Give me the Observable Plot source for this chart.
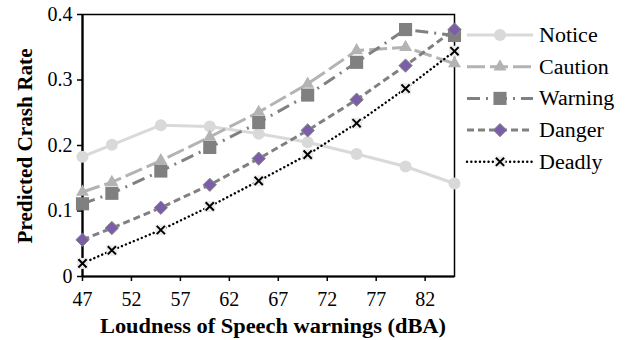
<!DOCTYPE html>
<html>
<head>
<meta charset="utf-8">
<script src="https://cdn.jsdelivr.net/npm/d3@7"></script>
<script src="https://cdn.jsdelivr.net/npm/@observablehq/plot@0.6"></script>
<style>
  html, body { margin: 0; padding: 0; background: #fff; }
  #chart { width: 628px; height: 340px; }
  #chart svg, #chart svg text { font-family: "Liberation Serif", "Times New Roman", serif !important; }
</style>
</head>
<body>
<div id="chart"></div>
<script>
// ---- data ----
const loudness = [47, 50, 55, 60, 65, 70, 75, 80, 85];
const notice  = [0.183, 0.201, 0.231, 0.229, 0.218, 0.205, 0.187, 0.168, 0.142];
const caution = [0.129, 0.144, 0.177, 0.213, 0.251, 0.294, 0.345, 0.350, 0.325];
const warning = [0.111, 0.127, 0.161, 0.197, 0.235, 0.277, 0.327, 0.377, 0.368];
const danger  = [0.056, 0.074, 0.105, 0.140, 0.180, 0.223, 0.270, 0.322, 0.377];
const deadly  = [0.020, 0.040, 0.071, 0.107, 0.146, 0.186, 0.234, 0.287, 0.344];
const seriesNames = ["Notice", "Caution", "Warning", "Danger", "Deadly"];
const xTicks = [47, 52, 57, 62, 67, 72, 77, 82];
const yTicks = [0, 0.1, 0.2, 0.3, 0.4];
const xTitle = "Loudness of Speech warnings (dBA)";
const yTitle = "Predicted Crash Rate";

const values = [notice, caution, warning, danger, deadly];
const rows = [];
seriesNames.forEach((s, i) => loudness.forEach((x, j) => rows.push({series: s, x, y: values[i][j]})));

// ---- styles ----
const styles = {
  Notice:  {stroke: "#d9d9d9", width: 3, dash: null, symbol: "circle", r: 6, fill: "#d9d9d9", mstroke: "none"},
  Caution: {stroke: "#b3b3b3", width: 3, dash: "18,5", symbol: "triangle", r: 4.8, fill: "#b3b3b3", mstroke: "none"},
  Warning: {stroke: "#808080", width: 3, dash: "13,6,2,6", symbol: "square", r: 7.4, fill: "#808080", mstroke: "none"},
  Danger:  {stroke: "#808080", width: 3, dash: "7,4", symbol: "diamond2", r: 6, fill: "#7b5ea7", mstroke: "#8a8a8a"},
  Deadly:  {stroke: "#000000", width: 2.4, dash: "0.1,4.2", symbol: "times", r: 3.8, fill: "none", mstroke: "#000"}
};

const marks = [];
for (const s of seriesNames) {
  const st = styles[s];
  const d = rows.filter(r => r.series === s);
  marks.push(Plot.line(d, {x: "x", y: "y", stroke: st.stroke, strokeWidth: st.width,
    strokeDasharray: st.dash, strokeLinecap: s === "Deadly" ? "round" : "butt"}));
  if (s === "Deadly") {
    marks.push(Plot.dot(d, {x: "x", y: "y", symbol: "square", r: 6.2, fill: "#ececec", stroke: "none"}));
    marks.push(Plot.dot(d, {x: "x", y: "y", symbol: "times", r: st.r, stroke: "#000", strokeWidth: 2}));
  } else {
    marks.push(Plot.dot(d, {x: "x", y: "y", symbol: st.symbol, r: st.r, fill: st.fill,
      stroke: st.mstroke, strokeWidth: 1}));
  }
}

const chart = Plot.plot({
  width: 628,
  height: 340,
  marginLeft: 82,
  marginRight: 174,
  marginTop: 14,
  marginBottom: 64,
  style: {fontFamily: "Liberation Serif", fontSize: "20px", color: "#000", background: "#fff", overflow: "visible"},
  x: {domain: [47, 85]},
  y: {domain: [0, 0.4]},
  marks: [
    Plot.axisX({ticks: xTicks, tickSize: 5, tickPadding: 10, label: null, tickFormat: d => String(d), strokeWidth: 1.5}),
    Plot.axisY({ticks: yTicks, tickSize: 5, tickPadding: 5, label: null, tickFormat: d => d === 0 ? "0" : d3.format(".1f")(d), strokeWidth: 1.5}),
    Plot.frame({stroke: "#000", strokeWidth: 1.5}),
    Plot.ruleY([0], {stroke: "#000", strokeWidth: 2.2}),
    Plot.ruleX([47], {stroke: "#000", strokeWidth: 2.2}),
    ...marks
  ]
});

document.getElementById("chart").appendChild(chart);

// stretch text horizontally like the reference's wider typeface
function stretch(sel, k) {
  const node = sel.node();
  const len = node.getComputedTextLength();
  if (len > 0) sel.attr("textLength", len * k).attr("lengthAdjust", "spacingAndGlyphs");
}

// ---- titles and legend (appended to the Plot SVG) ----
const svg = d3.select(chart);
const xt = svg.append("text")
  .attr("x", 273).attr("y", 333)
  .attr("text-anchor", "middle")
  .attr("font-weight", "bold").attr("font-size", 20)
  .attr("fill", "#000")
  .text(xTitle);
stretch(xt, 1.12);
const yt = svg.append("text")
  .attr("transform", "translate(32,146) rotate(-90)")
  .attr("text-anchor", "middle")
  .attr("font-weight", "bold").attr("font-size", 20)
  .attr("fill", "#000")
  .text(yTitle);
stretch(yt, 1.06);

const legend = svg.append("g").attr("text-anchor", "start");
const symMap = {circle: d3.symbolCircle, triangle: d3.symbolTriangle, square: d3.symbolSquare, diamond2: d3.symbolDiamond2, times: d3.symbolTimes};
seriesNames.forEach((s, i) => {
  const st = styles[s];
  const y = 35 + i * 31.7;
  const g = legend.append("g");
  g.append("line").attr("x1", 467).attr("x2", 533).attr("y1", y).attr("y2", y)
    .attr("stroke", st.stroke).attr("stroke-width", st.width)
    .attr("stroke-dasharray", st.dash).attr("stroke-linecap", s === "Deadly" ? "round" : "butt");
  const path = d3.symbol(symMap[st.symbol], st.r * st.r * Math.PI)();
  if (s === "Deadly") {
    g.append("path").attr("d", d3.symbol(d3.symbolSquare, 6.2 * 6.2 * Math.PI)())
      .attr("transform", `translate(500,${y})`).attr("fill", "#ececec");
    g.append("path").attr("d", path).attr("transform", `translate(500,${y})`)
      .attr("fill", "none").attr("stroke", "#000").attr("stroke-width", 2);
  } else {
    g.append("path").attr("d", path).attr("transform", `translate(500,${y})`)
      .attr("fill", st.fill).attr("stroke", st.mstroke).attr("stroke-width", 1);
  }
  const t = g.append("text").attr("x", 539).attr("y", y).attr("dy", "0.35em")
    .attr("text-anchor", "start")
    .attr("font-size", 20).attr("fill", "#000").text(s);
  stretch(t, 1.1);
});
</script>
</body>
</html>
